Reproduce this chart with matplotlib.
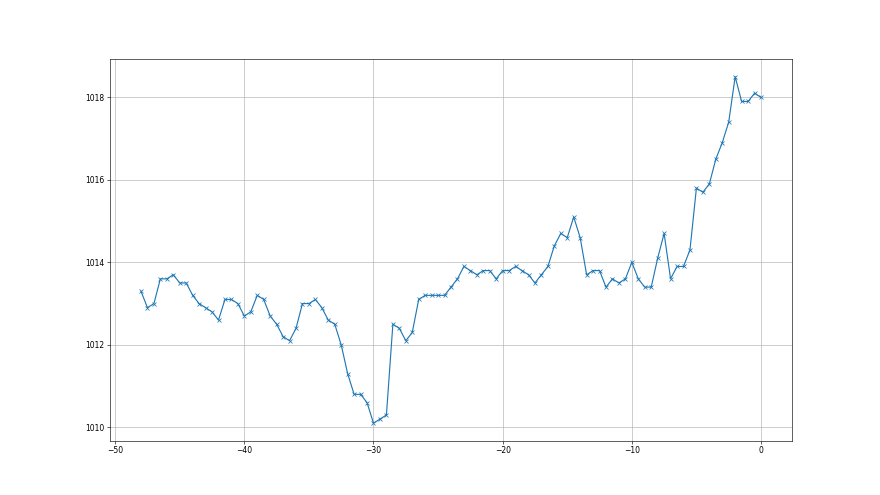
import numpy as np
import matplotlib
matplotlib.use("Agg")
import matplotlib.pyplot as plt

# hours relative to now, half-hour steps
hours = np.arange(-48, 0.5, 0.5)

# pressure readings (hPa)
pressure = [
    1013.3, 1012.9, 1013.0, 1013.6, 1013.6, 1013.7, 1013.5, 1013.5,
    1013.2, 1013.0, 1012.9, 1012.8, 1012.6, 1013.1, 1013.1, 1013.0,
    1012.7, 1012.8, 1013.2, 1013.1, 1012.7, 1012.5, 1012.2, 1012.1,
    1012.4, 1013.0, 1013.0, 1013.1, 1012.9, 1012.6, 1012.5, 1012.0,
    1011.3, 1010.8, 1010.8, 1010.6, 1010.1, 1010.2, 1010.3, 1012.5,
    1012.4, 1012.1, 1012.3, 1013.1, 1013.2, 1013.2, 1013.2, 1013.2,
    1013.4, 1013.6, 1013.9, 1013.8, 1013.7, 1013.8, 1013.8, 1013.6,
    1013.8, 1013.8, 1013.9, 1013.8, 1013.7, 1013.5, 1013.7, 1013.9,
    1014.4, 1014.7, 1014.6, 1015.1, 1014.6, 1013.7, 1013.8, 1013.8,
    1013.4, 1013.6, 1013.5, 1013.6, 1014.0, 1013.6, 1013.4, 1013.4,
    1014.1, 1014.7, 1013.6, 1013.9, 1013.9, 1014.3, 1015.8, 1015.7,
    1015.9, 1016.5, 1016.9, 1017.4, 1018.5, 1017.9, 1017.9, 1018.1,
    1018.0,
]

fig, ax = plt.subplots(figsize=(16, 9), dpi=55)
ax.plot(hours, pressure, 'x-')
ax.grid(True)

fig.savefig("out.png", dpi=55)
